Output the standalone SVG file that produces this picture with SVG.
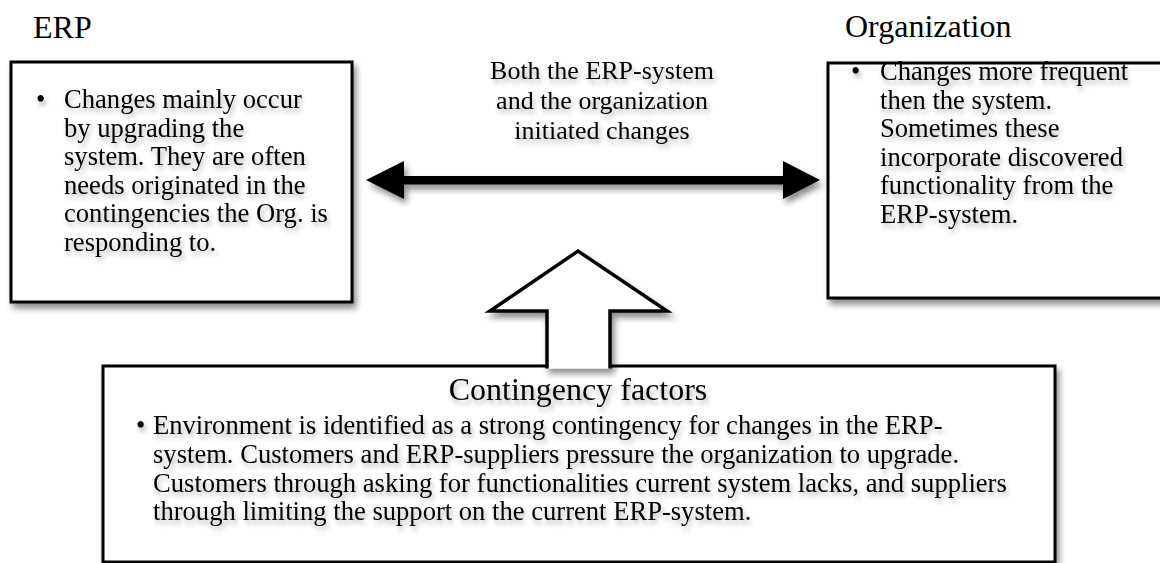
<svg xmlns="http://www.w3.org/2000/svg" width="1160" height="563" viewBox="0 0 1160 563">
  <style>
    text { font-family: "Liberation Serif", "Times New Roman", serif; fill: #000; }
    .title { font-size: 32px; }
    .body { font-size: 26.6px; }
    .label { font-size: 26px; text-anchor: middle; }
    .box { fill: #fff; stroke: #000; stroke-width: 3; }
    .outline { fill: #fff; stroke: #000; stroke-width: 3.5; stroke-linejoin: miter; }
    .solid { fill: #000; stroke: none; }
  </style>
  <defs>
    <filter id="boxShadow" x="-10%" y="-10%" width="130%" height="130%">
      <feDropShadow dx="3" dy="5" stdDeviation="3" flood-color="#000" flood-opacity="0.45"/>
    </filter>
    <filter id="textShadow" x="-5%" y="-20%" width="110%" height="150%">
      <feDropShadow dx="2" dy="4" stdDeviation="2.5" flood-color="#000" flood-opacity="0.3"/>
    </filter>
  </defs>

  <!-- section headings -->
  <text class="title" x="33" y="38">ERP</text>
  <text class="title" x="845" y="37">Organization</text>

  <!-- ERP box -->
  <g id="erp">
    <rect class="box" x="11" y="62" width="341" height="240" filter="url(#boxShadow)"/>
    <g class="body" filter="url(#textShadow)">
      <text x="36" y="108">•</text>
      <text x="64" y="108">Changes mainly occur</text>
      <text x="64" y="136.5">by upgrading the</text>
      <text x="64" y="165">system. They are often</text>
      <text x="64" y="193.5">needs originated in the</text>
      <text x="64" y="222">contingencies the Org. is</text>
      <text x="64" y="250.5">responding to.</text>
    </g>
  </g>

  <!-- Organization box -->
  <g id="organization">
    <rect class="box" x="828" y="63" width="345" height="235" filter="url(#boxShadow)"/>
    <g class="body" filter="url(#textShadow)">
      <text x="851" y="80">•</text>
      <text x="880" y="80">Changes more frequent</text>
      <text x="880" y="108.5">then the system.</text>
      <text x="880" y="137">Sometimes these</text>
      <text x="880" y="165.5">incorporate discovered</text>
      <text x="880" y="194">functionality from the</text>
      <text x="880" y="222.5">ERP-system.</text>
    </g>
  </g>

  <!-- Contingency factors box -->
  <g id="contingency">
    <rect class="box" x="103" y="366" width="952" height="196" filter="url(#boxShadow)"/>
    <g filter="url(#textShadow)">
      <text class="title" x="578" y="400" text-anchor="middle">Contingency factors</text>
      <g class="body">
        <text x="136" y="434">•</text>
        <text x="153" y="434">Environment is identified as a strong contingency for changes in the ERP-</text>
        <text x="153" y="463">system. Customers and ERP-suppliers pressure the organization to upgrade.</text>
        <text x="153" y="491.5">Customers through asking for functionalities current system lacks, and suppliers</text>
        <text x="153" y="520">through limiting the support on the current ERP-system.</text>
      </g>
    </g>
  </g>

  <!-- connectors -->
  <g id="connectors">
    <!-- two-way change relation between ERP and organization -->
    <polygon class="solid" filter="url(#boxShadow)"
      points="366,180 404,161 404,176 783,176 783,161 820,180 783,199 783,184.5 404,184.5 404,199"/>
    <g class="label" filter="url(#textShadow)">
      <text x="602" y="79">Both the ERP-system</text>
      <text x="602" y="109">and the organization</text>
      <text x="602" y="139">initiated changes</text>
    </g>
    <!-- hollow block arrow rising from the contingency box -->
    <path class="outline" filter="url(#boxShadow)"
      d="M547,368.5 L547,311 L490,311 L578,251 L667,311 L610,311 L610,368.5"/>
  </g>
</svg>
